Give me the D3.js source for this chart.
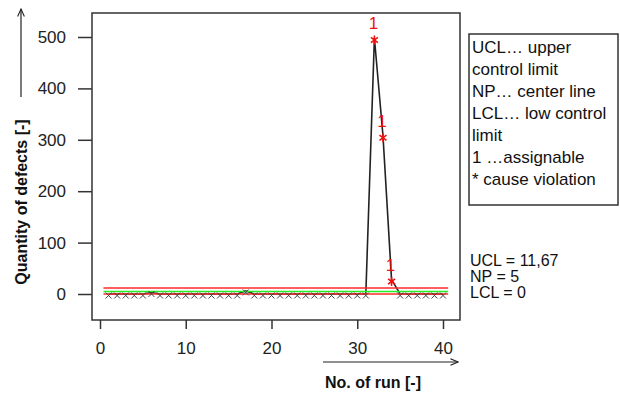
<!DOCTYPE html>
<html>
<head>
<meta charset="utf-8">
<script src="https://cdn.jsdelivr.net/npm/d3@7"></script>
<style>
  body { margin: 0; background: #fff; }
  svg { display: block; font-family: "Liberation Sans", Arial, sans-serif; }
</style>
</head>
<body>
<div id="container"></div>
<script>
// run number 1..40 and quantity of defects per run
const runs = d3.range(1, 41);
const defects = [0, 0, 0, 0, 0, 3, 0, 0, 0, 0,
                 0, 0, 0, 0, 0, 0, 6, 0, 0, 0,
                 0, 0, 0, 0, 0, 0, 0, 0, 0, 0,
                 0, 498, 308, 28, 0, 0, 0, 0, 0, 0];
// runs flagged as assignable cause violation (rule 1)
const violations = [32, 33, 34];

const UCL = 11.67;
const NP = 5;
const LCL = 0;

const xTicks = [0, 10, 20, 30, 40];
const yTicks = [0, 100, 200, 300, 400, 500];

const legendLines = ["UCL\u2026 upper", "control limit", "NP\u2026 center line",
                     "LCL\u2026 low control", "limit", "1 \u2026assignable", "* cause violation"];
const statLines = ["UCL = 11,67", "NP = 5", "LCL = 0"];

const w = 620;
const h = 394;

const svg = d3.select('#container').append('svg')
    .attr('width', w)
    .attr('height', h);

const x = d3.scaleLinear().domain([0, 40]).range([100, 443]);
const y = d3.scaleLinear().domain([0, 500]).range([294, 37]);

const frame = { left: 92, top: 13, right: 460, bottom: 320 };

// axes
const yAxis = d3.axisLeft(y).tickValues(yTicks).tickSize(14).tickPadding(12);
const yg = svg.append('g')
    .attr('transform', 'translate(' + frame.left + ',0)')
    .call(yAxis);
yg.select('.domain').remove();
yg.selectAll('text').style('font-size', '17px').attr('fill', '#222');
yg.selectAll('line').attr('stroke', '#333').attr('stroke-width', 1.5);

const xAxis = d3.axisBottom(x).tickValues(xTicks).tickSize(9).tickPadding(13);
const xg = svg.append('g')
    .attr('transform', 'translate(0,' + frame.bottom + ')')
    .call(xAxis);
xg.select('.domain').remove();
xg.selectAll('text').style('font-size', '17px').attr('fill', '#222');
xg.selectAll('line').attr('stroke', '#333').attr('stroke-width', 1.5);

svg.append('rect')
    .attr('x', frame.left)
    .attr('y', frame.top)
    .attr('width', frame.right - frame.left)
    .attr('height', frame.bottom - frame.top)
    .attr('fill', 'none')
    .attr('stroke', '#333')
    .attr('stroke-width', 1.5);

// data line
const pts = runs.map((r, i) => ({ run: r, val: defects[i] }));
const line = d3.line().x(d => x(d.run)).y(d => y(d.val));
svg.append('path')
    .datum(pts)
    .attr('d', line)
    .attr('fill', 'none')
    .attr('stroke', '#222')
    .attr('stroke-width', 1.6);

// control lines
const limits = [
  { v: UCL, c: '#ff2a2a' },
  { v: NP, c: '#22ee22' },
  { v: LCL, c: '#ff2a2a' }
];
svg.selectAll('.limit').data(limits)
    .enter()
    .append('line')
    .attr('class', 'limit')
    .attr('x1', x(0.4))
    .attr('x2', x(40.6))
    .attr('y1', d => y(d.v))
    .attr('y2', d => y(d.v))
    .attr('stroke', d => d.c)
    .attr('stroke-width', 1.5);

// markers
const normal = pts.filter(d => violations.indexOf(d.run) < 0);
svg.selectAll('.mk').data(normal)
    .enter()
    .append('path')
    .attr('class', 'mk')
    .attr('d', d => {
      const cx = x(d.run), cy = y(d.val) + 1.5, s = 3;
      return `M${cx - s},${cy - s}L${cx + s},${cy + s}M${cx - s},${cy + s}L${cx + s},${cy - s}`;
    })
    .attr('stroke', '#444')
    .attr('stroke-width', 1);

const bad = pts.filter(d => violations.indexOf(d.run) >= 0);
svg.selectAll('.star').data(bad)
    .enter()
    .append('path')
    .attr('class', 'star')
    .attr('d', d => {
      const cx = x(d.run), cy = y(d.val) + 2, s = 4.5, k = 3.5;
      return `M${cx},${cy - s}L${cx},${cy + s}` +
             `M${cx - k},${cy - k * 0.75}L${cx + k},${cy + k * 0.75}` +
             `M${cx - k},${cy + k * 0.75}L${cx + k},${cy - k * 0.75}`;
    })
    .attr('stroke', '#ee1111')
    .attr('stroke-width', 1.6);
svg.selectAll('.rule').data(bad)
    .enter()
    .append('text')
    .attr('class', 'rule')
    .attr('x', d => x(d.run) - 1)
    .attr('y', d => y(d.val) - 9)
    .attr('text-anchor', 'middle')
    .attr('fill', '#ee1111')
    .style('font-size', '17px')
    .text('1');

// axis titles with arrows
svg.append('defs').append('marker')
    .attr('id', 'arr')
    .attr('viewBox', '0 0 10 10')
    .attr('refX', 9).attr('refY', 5)
    .attr('markerWidth', 7).attr('markerHeight', 7)
    .attr('orient', 'auto')
    .append('path')
    .attr('d', 'M0,1L9,5L0,9')
    .attr('fill', 'none')
    .attr('stroke', '#222')
    .attr('stroke-width', 1.3);

svg.append('line')
    .attr('x1', 323).attr('y1', 362).attr('x2', 458).attr('y2', 362)
    .attr('stroke', '#222').attr('stroke-width', 1.2)
    .attr('marker-end', 'url(#arr)');
svg.append('text')
    .attr('x', 373).attr('y', 388)
    .attr('text-anchor', 'middle')
    .style('font-size', '16px').style('font-weight', 'bold')
    .attr('fill', '#111')
    .text('No. of run [-]');

svg.append('line')
    .attr('x1', 21).attr('y1', 97).attr('x2', 21).attr('y2', 9)
    .attr('stroke', '#222').attr('stroke-width', 1.2)
    .attr('marker-end', 'url(#arr)');
svg.append('text')
    .attr('transform', 'translate(27,202) rotate(-90)')
    .attr('text-anchor', 'middle')
    .style('font-size', '16px').style('font-weight', 'bold')
    .attr('fill', '#111')
    .text('Quantity of defects [-]');

// legend
svg.append('rect')
    .attr('x', 469).attr('y', 34)
    .attr('width', 149).attr('height', 171)
    .attr('fill', '#fff')
    .attr('stroke', '#333')
    .attr('stroke-width', 1.5);
svg.selectAll('.leg').data(legendLines)
    .enter()
    .append('text')
    .attr('class', 'leg')
    .attr('x', 472)
    .attr('y', (d, i) => 53 + i * 22)
    .style('font-size', '17px')
    .attr('fill', '#111')
    .text(d => d);

svg.selectAll('.stat').data(statLines)
    .enter()
    .append('text')
    .attr('class', 'stat')
    .attr('x', 470)
    .attr('y', (d, i) => 266 + i * 16)
    .style('font-size', '16px')
    .attr('fill', '#111')
    .text(d => d);
</script>
</body>
</html>
